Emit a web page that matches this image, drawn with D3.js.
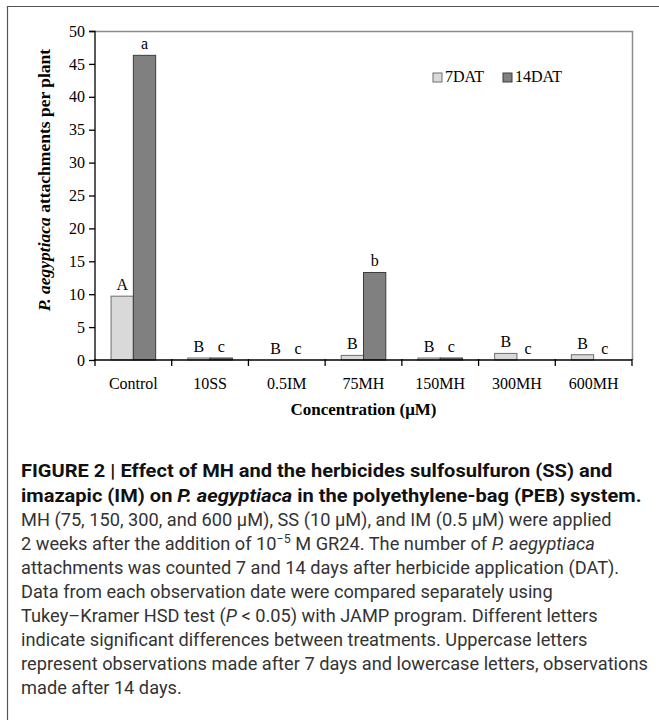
<!DOCTYPE html>
<html><head><meta charset="utf-8">
<script src="https://cdn.jsdelivr.net/npm/d3@7"></script>
<style>
body{margin:0;background:#fff;}
svg{display:block;}
</style></head>
<body>
<svg id="c" width="659" height="720"></svg>
<script>
const categories = ["Control","10SS","0.5IM","75MH","150MH","300MH","600MH"];
const series = ["7DAT","14DAT"];
const values7 = [9.7, 0.3, 0, 0.7, 0.3, 1.0, 0.8];
const values14 = [46.3, 0.3, 0, 13.3, 0.3, 0, 0];
const letters7 = ["A","B","B","B","B","B","B"];
const letters14 = ["a","c","c","b","c","c","c"];
const yTicks = [0,5,10,15,20,25,30,35,40,45,50];

const svg = d3.select("#c");
const serif = "'Liberation Serif','Times New Roman',serif";
const sans = "Roboto,'Liberation Sans',Arial,sans-serif";

// outer frame
svg.append("path").attr("d","M7.5,720 V6.5 H659").attr("fill","none").attr("stroke","#555").attr("stroke-width",1.2);

const m = {left:95, right:632, top:31, bottom:360};
const x = d3.scaleBand().domain(categories).range([m.left, m.right]);
const xs = d3.scaleBand().domain(series).range([0, x.bandwidth()]).paddingInner(0).paddingOuter(0.72);
const y = d3.scaleLinear().domain([0,50]).range([m.bottom, m.top]);

// plot border top/right
svg.append("path").attr("d",`M${m.left},${m.top+0.5} H${m.right+0.5} V${m.bottom}`).attr("fill","none").attr("stroke","#8c8c8c").attr("stroke-width",1.5);

const colors = {"7DAT":"#d9d9d9","14DAT":"#808080"};
const strokes = {"7DAT":"#6e6e6e","14DAT":"#3c3c3c"};

const data = categories.map((c,i)=>({c, v:{"7DAT":values7[i],"14DAT":values14[i]}, l:{"7DAT":letters7[i],"14DAT":letters14[i]}}));

const g = svg.append("g");
data.forEach(d=>{
  series.forEach(s=>{
    const v = d.v[s];
    if (v > 0) {
      g.append("rect")
        .attr("x", x(d.c)+xs(s))
        .attr("y", y(v))
        .attr("width", xs.bandwidth())
        .attr("height", y(0)-y(v))
        .attr("fill", colors[s]).attr("stroke", strokes[s]).attr("stroke-width",1);
    }
    g.append("text")
      .attr("x", x(d.c)+xs(s)+xs.bandwidth()/2)
      .attr("y", y(v)-6)
      .attr("text-anchor","middle")
      .attr("font-family",serif).attr("font-size",16)
      .text(d.l[s]);
  });
});

// axes
const yAxis = d3.axisLeft(y).tickValues(yTicks).tickSize(6).tickPadding(4).tickFormat(d3.format("d"));
const ya = svg.append("g").attr("transform",`translate(${m.left},0)`).call(yAxis);
ya.select(".domain").attr("stroke","#000").attr("stroke-width",1.3).attr("d",`M-6,${m.top+0.5}H0V${m.bottom}`);
ya.selectAll(".tick line").attr("stroke","#000").attr("stroke-width",1.3);
ya.selectAll("text").attr("font-family",serif).attr("font-size",16).attr("fill","#000");

const xAxis = d3.axisBottom(x).tickSize(0).tickPadding(18);
const xa = svg.append("g").attr("transform",`translate(0,${m.bottom})`).call(xAxis);
xa.select(".domain").attr("stroke","#000").attr("stroke-width",1.3).attr("d",`M${m.left},0H${m.right}`);
xa.selectAll("text").attr("font-family",serif).attr("font-size",16).attr("fill","#000");
const bounds = categories.map(c=>x(c)).concat([m.right]);
xa.selectAll("line.bt").data(bounds).enter().append("line").attr("class","bt")
  .attr("x1",d=>d).attr("x2",d=>d).attr("y1",-1).attr("y2",6).attr("stroke","#000").attr("stroke-width",1.3);

// axis titles
svg.append("text").attr("x",(m.left+m.right)/2).attr("y",415).attr("text-anchor","middle")
  .attr("font-family",serif).attr("font-size",17).attr("font-weight","bold").text("Concentration (μM)");
const yt = svg.append("text").attr("transform",`translate(50,180) rotate(-90)`)
  .attr("text-anchor","middle").attr("font-family",serif).attr("font-size",17.5).attr("font-weight","bold");
yt.append("tspan").attr("font-style","italic").text("P. aegyptiaca");
yt.append("tspan").text(" attachments per plant");

// legend
const leg = svg.append("g").attr("transform","translate(433,82)");
series.forEach((s,i)=>{
  const lx = i*70;
  leg.append("rect").attr("x",lx).attr("y",-9).attr("width",9).attr("height",9)
    .attr("fill",colors[s]).attr("stroke",strokes[s]);
  leg.append("text").attr("x",lx+12).attr("y",0).attr("font-family",serif).attr("font-size",16).text(s);
});

// caption
const cap = svg.append("g");
const lines = [
  {y:477, bold:true, parts:[["FIGURE 2 | Effect of MH and the herbicides sulfosulfuron (SS) and",false]]},
  {y:502, bold:true, fit:621, parts:[["imazapic (IM) on ",false],["P. aegyptiaca",true],[" in the polyethylene-bag (PEB) system.",false]]},
  {y:526, parts:[["MH (75, 150, 300, and 600 μM), SS (10 μM), and IM (0.5 μM) were applied",false]]},
  {y:550, parts:[["2 weeks after the addition of 10",false],["SUP",false],[" M GR24. The number of ",false],["P. aegyptiaca",true]]},
  {y:574, parts:[["attachments was counted 7 and 14 days after herbicide application (DAT).",false]]},
  {y:598, parts:[["Data from each observation date were compared separately using",false]]},
  {y:622, parts:[["Tukey–Kramer HSD test (",false],["P",true],[" < 0.05) with JAMP program. Different letters",false]]},
  {y:646, parts:[["indicate significant differences between treatments. Uppercase letters",false]]},
  {y:670, fit:627, parts:[["represent observations made after 7 days and lowercase letters, observations",false]]},
  {y:694, parts:[["made after 14 days.",false]]}
];
const nodes = lines.map(L=>{
  const t = cap.append("text").attr("x",0).attr("y",0).attr("font-family",sans).attr("font-size",17.5)
    .attr("fill", L.bold ? "#111" : "#333").attr("font-weight", L.bold ? "bold" : "normal");
  let afterSup = false;
  L.parts.forEach(p=>{
    if (p[0]==="SUP") {
      t.append("tspan").attr("dy",-7).attr("font-size",12).text("−5");
      afterSup = true;
    } else {
      const ts = t.append("tspan").text(p[0]);
      if (afterSup) { ts.attr("dy",7); afterSup = false; }
      if (p[1]) ts.attr("font-style","italic");
    }
  });
  return t;
});
// one horizontal scale per style, fitted from a reference line of each style
let kBold = 1, kReg = 1;
lines.forEach((L,i)=>{
  if (L.fit) {
    const w = nodes[i].node().getBBox().width;
    if (L.bold) kBold = L.fit / w; else kReg = L.fit / w;
  }
});
lines.forEach((L,i)=>{
  const k = L.bold ? kBold : kReg;
  nodes[i].attr("transform",`translate(21,${L.y}) scale(${k},1)`);
});
</script>
</body></html>
